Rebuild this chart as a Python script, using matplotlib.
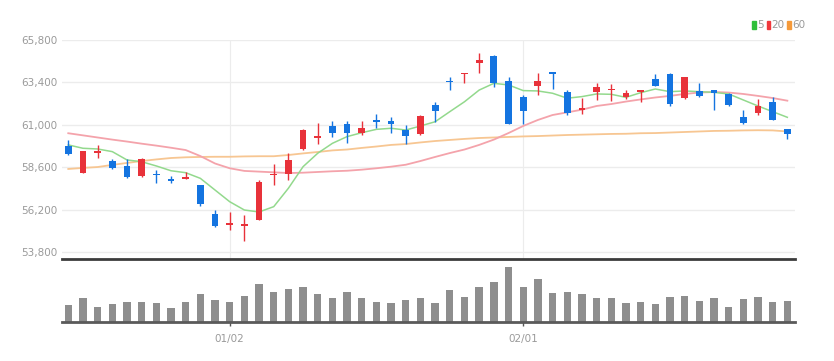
#!/usr/bin/env python3
"""
Daily candlestick chart with 5/20/60 moving averages and volume bars.
"""

import matplotlib
matplotlib.use('Agg')
import matplotlib.pyplot as plt
import matplotlib.patches as mpatches
from matplotlib.ticker import FuncFormatter
import numpy as np

# OHLC for 50 trading days
opens = [59800, 58300, 59400, 58950, 58700, 58100, 58250, 57950, 57950, 57600,
         55950, 55350, 55300, 55650, 58150, 58250, 59650, 60250, 60950, 61050,
         60550, 61300, 61200, 60700, 60500, 62150, 63500, 63850, 64500, 64900,
         63500, 62550, 63200, 64000, 62850, 61850, 62850, 62950, 62600, 62850,
         63600, 63900, 62500, 62900, 62950, 62750, 61450, 61700, 62300, 60750]
highs = [60150, 59500, 59850, 59050, 59050, 59150, 58450, 58100, 58350, 57600,
         56200, 56050, 55900, 57900, 58800, 59400, 60750, 61100, 61200, 61200,
         61200, 61600, 61450, 61000, 61550, 62300, 63700, 63950, 65050, 64950,
         63700, 62700, 63950, 64000, 62950, 62500, 63350, 63300, 62950, 62950,
         63900, 63950, 63700, 63350, 63000, 62800, 61850, 62450, 62550, 60750]
lows = [59300, 58300, 59150, 58500, 58000, 58050, 57700, 57700, 57950, 56400,
        55250, 55050, 54450, 55600, 57600, 57900, 59600, 59900, 60300, 59950,
        60450, 60850, 60550, 59900, 60450, 61150, 63000, 63350, 63950, 63150,
        61050, 61050, 62700, 63050, 61550, 61600, 62400, 62350, 62450, 62300,
        63200, 62050, 62450, 62600, 61850, 62050, 61050, 61550, 61300, 60200]
closes = [59350, 59500, 59500, 58550, 58050, 59100, 58150, 57850, 58050, 56550,
          55300, 55450, 55400, 57750, 58250, 59000, 60700, 60350, 60550, 60550,
          60800, 61150, 61050, 60400, 61500, 61800, 63400, 63950, 64650, 63350,
          61050, 61800, 63500, 63900, 61650, 61950, 63150, 63050, 62800, 62950,
          63200, 62200, 63700, 62650, 62800, 62150, 61100, 62050, 61300, 60500]

# Moving averages as drawn on the chart
ma5 = [59870, 59680, 59640, 59490, 59020, 58920, 58680, 58410, 58300, 57980,
       57320, 56660, 56190, 56080, 56380, 57420, 58640, 59400, 59960, 60340,
       60560, 60750, 60810, 60710, 60940, 61180, 61750, 62310, 62970, 63350,
       63260, 62940, 62920, 62790, 62510, 62600, 62750, 62730, 62560, 62820,
       63030, 62880, 62920, 62880, 62840, 62750, 62410, 62070, 61750, 61430]
ma20 = [60530, 60410, 60290, 60170, 60060, 59940, 59830, 59710, 59580, 59240,
        58820, 58550, 58400, 58360, 58320, 58280, 58300, 58340, 58380, 58410,
        58470, 58550, 58640, 58750, 58960, 59190, 59410, 59610, 59870, 60170,
        60540, 60940, 61280, 61560, 61710, 61860, 62070, 62180, 62320, 62440,
        62550, 62640, 62750, 62830, 62860, 62830, 62750, 62640, 62520, 62370]
ma60 = [58510, 58570, 58620, 58740, 58850, 58960, 59050, 59130, 59170, 59190,
        59200, 59200, 59220, 59230, 59230, 59300, 59390, 59470, 59560, 59610,
        59700, 59780, 59870, 59920, 60010, 60090, 60150, 60210, 60260, 60290,
        60320, 60350, 60370, 60400, 60430, 60450, 60470, 60490, 60500, 60530,
        60540, 60570, 60600, 60630, 60660, 60670, 60690, 60700, 60690, 60630]

# Volume (relative units)
volume = [50, 72, 45, 53, 60, 60, 55, 40, 60, 83,
          65, 58, 78, 112, 87, 97, 104, 83, 70, 89,
          70, 58, 55, 65, 72, 55, 94, 74, 104, 117,
          163, 104, 128, 85, 88, 83, 70, 70, 55, 60,
          53, 74, 78, 63, 72, 45, 68, 74, 60, 63]

tick_idx = [11, 31]
tick_labels = ['01/02', '02/01']
price_ticks = [53800, 56200, 58600, 61000, 63400, 65800]

UP = '#e8323a'
DOWN = '#1474e0'
TXT = '#9a9a9a'
FONT = ['Liberation Sans Narrow', 'DejaVu Sans']

x = np.arange(len(closes))
o = np.array(opens)
c = np.array(closes)

fig = plt.figure(figsize=(8.34, 3.61), dpi=100)
ax = fig.add_axes([0.0743, 0.2817, 0.8789, 0.6075])
axv = fig.add_axes([0.0743, 0.1089, 0.8789, 0.1627])

# price panel
for t in price_ticks:
    ax.axhline(t, color='#ececec', lw=1, zorder=0)
for i in tick_idx:
    ax.axvline(i, color='#ececec', lw=0.8, zorder=0)

ax.plot(x, ma60, color='#f7c692', lw=1.3, zorder=1)
ax.plot(x, ma20, color='#f4a3ab', lw=1.3, zorder=1)
ax.plot(x, ma5, color='#93d98d', lw=1.1, zorder=1)

colors = [UP if cl >= op else DOWN for op, cl in zip(opens, closes)]
ax.vlines(x, lows, highs, colors=colors, lw=1, zorder=2)
body = np.maximum(np.abs(c - o), 90)
ax.bar(x, body, bottom=np.minimum(o, c), width=0.46, color=colors, zorder=3)

ax.set_xlim(-0.43, 49.52)
ax.set_ylim(53404, 65800)
ax.set_yticks(price_ticks)
ax.yaxis.set_major_formatter(FuncFormatter(lambda v, p: f'{int(v):,}'))
ax.tick_params(axis='y', length=0, pad=3, labelsize=7.5, labelcolor=TXT)
for lab in ax.get_yticklabels():
    lab.set_family(FONT)
ax.set_xticks([])
for s in ['top', 'right', 'left']:
    ax.spines[s].set_visible(False)
ax.spines['bottom'].set_color('#3c3c3c')
ax.spines['bottom'].set_linewidth(2)

# volume panel
axv.bar(x, volume, width=0.5, color='#8e8e8e', zorder=2)
axv.set_xlim(-0.43, 49.52)
axv.set_ylim(0, 175)
axv.set_yticks([])
axv.set_xticks(tick_idx)
axv.set_xticklabels(tick_labels, family=FONT, fontsize=7.5, color=TXT)
axv.tick_params(axis='x', length=3, width=1, color='#555555', pad=6)
for s in ['top', 'right', 'left']:
    axv.spines[s].set_visible(False)
axv.spines['bottom'].set_color('#5a5a5a')
axv.spines['bottom'].set_linewidth(2)

# legend (top right)
leg = [('5', '#2fbf3a'), ('20', '#f0383c'), ('60', '#f59a3a')]
lx = 752
for lab, col in leg:
    fig.patches.append(mpatches.Rectangle((lx / 834, 1 - 29 / 361), 3.5 / 834, 8 / 361,
                                          transform=fig.transFigure, color=col))
    t = fig.text((lx + 5) / 834, 1 - 25 / 361, lab, fontsize=7.5, color=TXT,
                 family=FONT, va='center', ha='left')
    lx += 5 + 6 * len(lab) + 3.5

fig.savefig('out.png', dpi=100)
print("Saved out.png")
